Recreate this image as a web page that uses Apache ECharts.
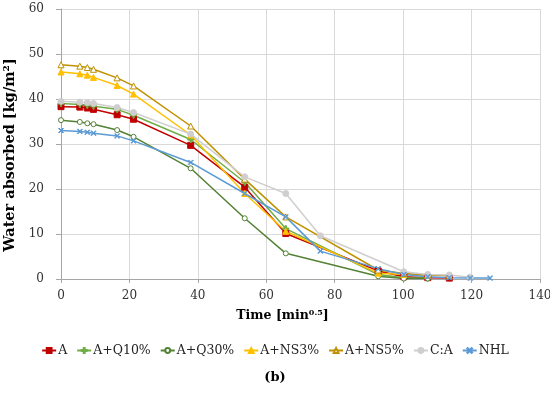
<!DOCTYPE html>
<html><head><meta charset="utf-8">
<script src="https://cdn.jsdelivr.net/npm/echarts@6/dist/echarts.min.js"></script>
<style>html,body{margin:0;padding:0;background:#fff}#c{width:550px;height:397px}</style>
</head><body><div id="c"></div>
<script>
const xA    = [0, 5.5, 7.7, 9.5, 16.4, 21.2, 37.9, 53.7, 65.7, 92.7, 100.2, 107.2, 113.5];
const yA    = [38.3, 38.2, 38.0, 37.7, 36.5, 35.5, 29.7, 20.4, 10.1, 1.8, 0.5, 0.3, 0.2];
const xQ10  = [0, 5.5, 7.7, 9.5, 16.4, 21.2, 37.9, 53.7, 65.7, 92.7, 100.2, 107.2];
const yQ10  = [39.0, 38.8, 38.6, 38.4, 37.7, 36.4, 31.0, 21.5, 11.2, 1.0, 0.3, 0.2];
const xQ30  = [0, 5.5, 7.7, 9.5, 16.4, 21.2, 37.9, 53.7, 65.7, 92.7, 100.2, 107.2];
const yQ30  = [35.3, 34.9, 34.6, 34.4, 33.1, 31.6, 24.6, 13.5, 5.7, 0.6, 0.1, 0.1];
const xNS3  = [0, 5.5, 7.7, 9.5, 16.4, 21.2, 37.9, 53.7, 65.7, 92.7, 100.2, 107.2];
const yNS3  = [46.0, 45.6, 45.3, 44.8, 43.0, 41.1, 32.0, 19.0, 10.6, 1.3, 1.0, 0.8];
const xNS5  = [0, 5.5, 7.7, 9.5, 16.4, 21.2, 37.9, 53.7, 65.7, 92.7, 100.2, 107.2, 113.5];
const yNS5  = [47.6, 47.3, 47.0, 46.6, 44.7, 42.9, 34.0, 22.2, 13.8, 2.0, 1.2, 0.9, 0.7];
const xCA   = [0, 5.5, 7.7, 9.5, 16.4, 21.2, 37.9, 53.7, 65.7, 75.8, 100.2, 107.2, 113.5, 119.6];
const yCA   = [39.5, 39.3, 39.2, 39.0, 38.1, 37.0, 32.2, 22.7, 19.0, 9.6, 1.6, 1.0, 0.9, 0.4];
const xNHL  = [0, 5.5, 7.7, 9.5, 16.4, 21.2, 37.9, 53.7, 65.7, 75.8, 92.7, 100.2, 107.2, 113.5, 119.6, 125.4];
const yNHL  = [33.0, 32.8, 32.6, 32.4, 31.8, 30.7, 25.9, 19.0, 13.8, 6.2, 2.3, 1.0, 0.5, 0.3, 0.2, 0.2];
const xTicks = [0, 20, 40, 60, 80, 100, 120, 140];
const yTicks = [0, 10, 20, 30, 40, 50, 60];

const F = 'DejaVu Serif';
const plus = 'path://M4,0H6V4H10V6H6V10H4V6H0V4H4Z';
const cross = 'path://M1,0L5,4L9,0L10,1L6,5L10,9L9,10L5,6L1,10L0,9L4,5L0,1Z';
const zip = (xs, ys) => xs.map((x, i) => [x, ys[i]]);
function S(name, xs, ys, color, symbol, size, fill) {
  return {
    name, type: 'line', data: zip(xs, ys), symbol, symbolSize: size,
    lineStyle: {color, width: 1.5}, itemStyle: {color: fill || color, borderColor: color, borderWidth: 1},
    emphasis: {disabled: true}, animation: false
  };
}
const chart = echarts.init(document.getElementById('c'));
chart.setOption({
  backgroundColor: '#fff',
  animation: false,
  grid: {left: 61, right: 10, top: 9, bottom: 118, containLabel: false, outerBoundsMode: 'none'},
  xAxis: {
    type: 'value', min: 0, max: 140, interval: 20,
    name: 'Time [min{s|0.5}]', nameLocation: 'middle', nameGap: 30,
    nameTextStyle: {fontFamily: F, fontWeight: 'bold', fontSize: 12.5, color: '#000', padding: [0, 36, 0, 0],
      rich: {s: {fontFamily: F, fontWeight: 'bold', fontSize: 8, verticalAlign: 'top', padding: [0,0,6,0], color: '#000'}}},
    axisLine: {lineStyle: {color: '#a6a6a6'}},
    axisTick: {show: true, inside: false, length: 4, lineStyle: {color: '#a6a6a6'}},
    axisLabel: {fontFamily: F, fontSize: 12, color: '#333', margin: 11,
      formatter: v => xTicks.includes(v) ? String(v) : ''},
    splitLine: {show: true, lineStyle: {color: '#d9d9d9'}}
  },
  yAxis: {
    type: 'value', min: 0, max: 60, interval: 10,
    name: 'Water absorbed [kg/m²]', nameLocation: 'middle', nameGap: 38, nameRotate: 90,
    nameTextStyle: {fontFamily: F, fontWeight: 'bold', fontSize: 14.5, color: '#000', padding: [0, 22, 0, 0]},
    axisLine: {show: true, lineStyle: {color: '#a6a6a6'}},
    axisTick: {show: true, length: 5, lineStyle: {color: '#a6a6a6'}},
    axisLabel: {fontFamily: F, fontSize: 12, color: '#333', margin: 17,
      formatter: v => yTicks.includes(v) ? String(v) : ''},
    splitLine: {show: true, lineStyle: {color: '#d9d9d9'}}
  },
  legend: {
    top: 339, left: 'center', itemWidth: 14, itemHeight: 6, itemGap: 9,
    textStyle: {fontFamily: F, fontSize: 12.5, color: '#222', padding: [0,0,0,-3]},
    data: ['A', 'A+Q10%', 'A+Q30%', 'A+NS3%', 'A+NS5%', 'C:A', 'NHL']
  },
  graphic: [{type: 'text', left: 'center', top: 371, style: {text: '(b)', font: 'bold 13px "DejaVu Serif"', fill: '#000'}}],
  series: [
    S('A', xA, yA, '#c00000', 'rect', 6),
    S('A+Q10%', xQ10, yQ10, '#70ad47', plus, 6),
    S('A+Q30%', xQ30, yQ30, '#548235', 'circle', 5, '#fff'),
    S('A+NS3%', xNS3, yNS3, '#ffc000', 'triangle', 6),
    S('A+NS5%', xNS5, yNS5, '#bf9000', 'triangle', 6, '#fff'),
    S('C:A', xCA, yCA, '#d0cece', 'circle', 6),
    S('NHL', xNHL, yNHL, '#5b9bd5', cross, 5)
  ]
});
</script></body></html>
